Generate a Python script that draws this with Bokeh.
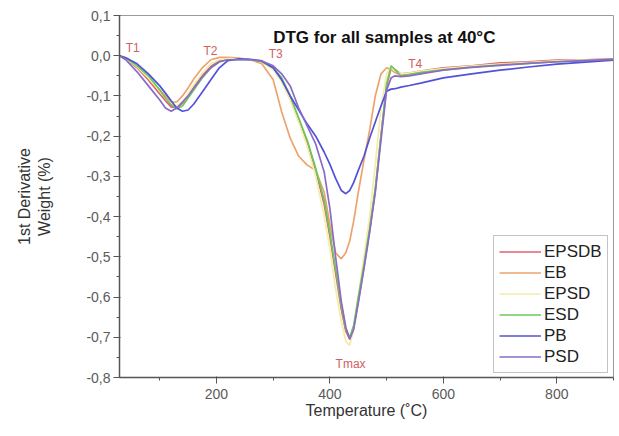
from bokeh.plotting import figure
from bokeh.models import Range1d, FixedTicker, Label
from bokeh.embed import file_html
from bokeh.resources import INLINE

temperature = [29, 40, 60, 80, 100, 110, 120, 130, 140, 150, 160, 175, 190, 205, 220, 240, 260, 280,
               300, 315, 330, 345, 360, 375, 390, 400, 410, 420, 428, 435, 442, 450, 460, 470, 480,
               490, 500, 508, 515, 525, 540, 560, 600, 650, 700, 750, 800, 850, 900]

epsdb = [0, -0.008, -0.03, -0.06, -0.095, -0.112, -0.127, -0.13, -0.118, -0.098, -0.078, -0.05, -0.027,
         -0.013, -0.008, -0.008, -0.01, -0.015, -0.03, -0.06, -0.105, -0.16, -0.215, -0.285, -0.37, -0.45,
         -0.54, -0.63, -0.685, -0.705, -0.675, -0.61, -0.525, -0.435, -0.335, -0.2, -0.075, -0.03, -0.035,
         -0.045, -0.043, -0.038, -0.03, -0.025, -0.018, -0.015, -0.011, -0.01, -0.008]
eb = [0, -0.008, -0.028, -0.055, -0.085, -0.1, -0.115, -0.115, -0.1, -0.08, -0.058, -0.03, -0.01,
      -0.004, -0.004, -0.006, -0.01, -0.02, -0.06, -0.14, -0.205, -0.25, -0.272, -0.285, -0.34, -0.42,
      -0.49, -0.505, -0.49, -0.46, -0.41, -0.34, -0.26, -0.185, -0.1, -0.045, -0.03, -0.035, -0.042,
      -0.048, -0.045, -0.04, -0.033, -0.027, -0.022, -0.018, -0.014, -0.012, -0.01]
epsd = [0, -0.006, -0.027, -0.055, -0.088, -0.105, -0.12, -0.125, -0.115, -0.095, -0.072, -0.043, -0.02,
        -0.01, -0.007, -0.008, -0.01, -0.016, -0.035, -0.065, -0.11, -0.165, -0.225, -0.3, -0.4, -0.48,
        -0.58, -0.66, -0.71, -0.72, -0.68, -0.6, -0.5, -0.4, -0.27, -0.13, -0.045, -0.03, -0.038,
        -0.045, -0.043, -0.038, -0.032, -0.026, -0.021, -0.017, -0.013, -0.011, -0.009]
esd = [0, -0.005, -0.025, -0.05, -0.085, -0.105, -0.122, -0.132, -0.125, -0.105, -0.085, -0.055, -0.03,
       -0.015, -0.01, -0.01, -0.01, -0.015, -0.03, -0.055, -0.1, -0.155, -0.21, -0.28, -0.36, -0.44,
       -0.53, -0.62, -0.68, -0.7, -0.67, -0.6, -0.52, -0.43, -0.33, -0.2, -0.07, -0.025, -0.035,
       -0.05, -0.047, -0.042, -0.035, -0.028, -0.023, -0.019, -0.015, -0.012, -0.009]
pb = [0, -0.005, -0.02, -0.045, -0.075, -0.093, -0.112, -0.13, -0.138, -0.135, -0.12, -0.09, -0.06,
      -0.03, -0.012, -0.008, -0.009, -0.013, -0.03, -0.06, -0.1, -0.135, -0.17, -0.2, -0.24, -0.27,
      -0.305, -0.335, -0.343, -0.335, -0.315, -0.285, -0.25, -0.205, -0.165, -0.125, -0.088, -0.083, -0.082,
      -0.078, -0.074, -0.068, -0.055, -0.045, -0.036, -0.028, -0.021, -0.016, -0.011]
psd = [0, -0.01, -0.04, -0.075, -0.11, -0.13, -0.138, -0.13, -0.115, -0.1, -0.08, -0.052, -0.03,
       -0.015, -0.01, -0.01, -0.01, -0.013, -0.025, -0.045, -0.075, -0.13, -0.175, -0.22, -0.29, -0.38,
       -0.5, -0.61, -0.675, -0.705, -0.68, -0.615, -0.53, -0.44, -0.34, -0.21, -0.085, -0.055, -0.05,
       -0.052, -0.05, -0.045, -0.036, -0.029, -0.024, -0.019, -0.015, -0.012, -0.009]

series_names = ["EPSDB", "EB", "EPSD", "ESD", "PB", "PSD"]
series_values = [epsdb, eb, epsd, esd, pb, psd]
series_colors = ["#e0606c", "#eca36c", "#f2eeaa", "#6cc85c", "#5252d8", "#8a6cc8"]

y_ticks = [-0.8, -0.7, -0.6, -0.5, -0.4, -0.3, -0.2, -0.1, 0.0, 0.1]
y_tick_labels = ["-0,8", "-0,7", "-0,6", "-0,5", "-0,4", "-0,3", "-0,2", "-0,1", "0,0", "0,1"]
x_ticks = [200, 400, 600, 800]
x_minor_ticks = [100, 300, 500, 700, 900]

annotations = [("T1", 40, 0.02), ("T2", 177, 0.012), ("T3", 292, 0.005), ("T4", 538, -0.02), ("Tmax", 410, -0.766)]

FONT = "Liberation Sans"

p = figure(width=617, height=428, output_backend="svg", toolbar_location=None,
           x_range=Range1d(29, 900), y_range=Range1d(-0.8, 0.1),
           min_border_left=119, min_border_right=4, min_border_top=15, min_border_bottom=51)
p.grid.visible = False
p.outline_line_color = "#9a9a9a"
p.outline_line_width = 1

for name, vals, col in zip(series_names, series_values, series_colors):
    p.line(temperature, vals, line_color=col, line_width=1.7, legend_label=name)

p.yaxis.ticker = FixedTicker(ticks=y_ticks,
                             minor_ticks=[round(-0.8 + 0.05 * i, 3) for i in range(19)])
p.yaxis.major_label_overrides = {t: l for t, l in zip(y_ticks, y_tick_labels)}
p.xaxis.ticker = FixedTicker(ticks=x_ticks, minor_ticks=x_minor_ticks)

for ax in (p.xaxis[0], p.yaxis[0]):
    ax.axis_line_color = "#555555"
    ax.axis_line_width = 1.5
    ax.major_tick_line_color = "#555555"
    ax.minor_tick_line_color = "#555555"
    ax.major_tick_out = 6
    ax.major_tick_in = 1
    ax.minor_tick_out = 3
    ax.minor_tick_in = 0
    ax.major_label_text_font = FONT
    ax.major_label_text_font_size = "14px"
    ax.major_label_text_color = "#5a5a5a"
    ax.axis_label_text_font = FONT
    ax.axis_label_text_font_size = "16px"
    ax.axis_label_text_font_style = "normal"
    ax.axis_label_text_color = "#333333"

p.xaxis.axis_label = "Temperature (\u02daC)"
p.xaxis.major_label_standoff = 5
p.xaxis.axis_label_standoff = 0
p.yaxis.axis_label = "1st Derivative\nWeight (%)"
p.yaxis.major_label_standoff = 3
p.yaxis.axis_label_standoff = 30

p.add_layout(Label(x=300, y=0.045, text="DTG for all samples at 40\u00b0C", text_font=FONT,
                   text_font_size="17px", text_font_style="bold", text_color="#111111",
                   text_baseline="middle"))
for txt, ax_, ay_ in annotations:
    p.add_layout(Label(x=ax_, y=ay_, text=txt, text_font=FONT, text_font_size="12px",
                       text_color="#d06060", text_baseline="middle"))

leg = p.legend[0]
leg.location = (374, 4)
leg.label_text_font = FONT
leg.label_text_font_size = "17px"
leg.label_text_color = "#222222"
leg.glyph_width = 42
leg.glyph_height = 21
leg.label_height = 21
leg.spacing = 0
leg.padding = 5
leg.margin = 0
leg.label_standoff = 3
leg.border_line_color = "#888888"
leg.border_line_width = 1
leg.background_fill_alpha = 1

open("out.html", "w").write(file_html(p, INLINE))
